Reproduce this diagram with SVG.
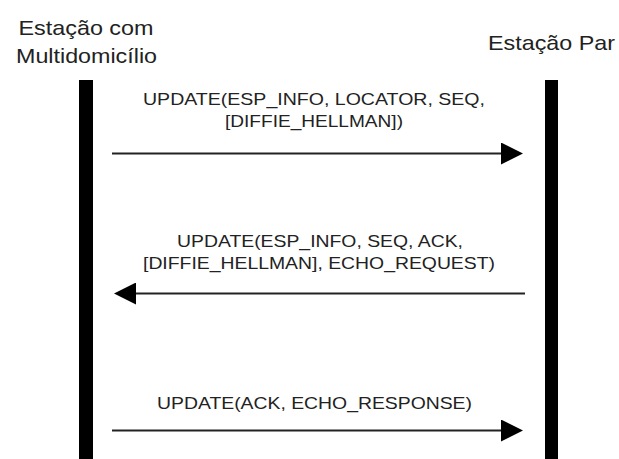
<svg xmlns="http://www.w3.org/2000/svg" width="619" height="459" viewBox="0 0 619 459">
  <defs>
    <style>
      .title { font-family: "Liberation Sans", Arial, sans-serif; font-size: 21px; fill: #222; text-anchor: middle; }
      .msg { font-family: "Liberation Sans", Arial, sans-serif; font-size: 17px; fill: #222; text-anchor: middle; }
      .bar { fill: #000; }
      .arrow { stroke: #222; stroke-width: 2; fill: none; marker-end: url(#head); }
    </style>
    <marker id="head" markerUnits="userSpaceOnUse" markerWidth="22" markerHeight="22" refX="9" refY="11" orient="auto">
      <path d="M0,0 L22,11 L0,22 Z" fill="#000"/>
    </marker>
  </defs>
  <rect width="619" height="459" fill="#fff"/>

  <!-- multihomed station lifeline -->
  <g id="estacao-multidomicilio">
    <text class="title" x="86" y="35" textLength="135" lengthAdjust="spacingAndGlyphs">Estação com</text>
    <text class="title" x="86.5" y="63" textLength="141" lengthAdjust="spacingAndGlyphs">Multidomicílio</text>
    <rect class="bar" x="79" y="80" width="14" height="379"/>
  </g>

  <!-- peer station lifeline -->
  <g id="estacao-par">
    <text class="title" x="551.5" y="50" textLength="127" lengthAdjust="spacingAndGlyphs">Estação Par</text>
    <rect class="bar" x="545" y="80" width="13" height="379"/>
  </g>

  <!-- messages -->
  <g id="connectors">
    <g id="msg1">
      <text class="msg" x="314" y="105" textLength="342" lengthAdjust="spacingAndGlyphs">UPDATE(ESP_INFO, LOCATOR, SEQ,</text>
      <text class="msg" x="314" y="127" textLength="178" lengthAdjust="spacingAndGlyphs">[DIFFIE_HELLMAN])</text>
      <line class="arrow" x1="112" y1="153.5" x2="510" y2="153.5"/>
    </g>
    <g id="msg2">
      <text class="msg" x="320" y="247" textLength="286" lengthAdjust="spacingAndGlyphs">UPDATE(ESP_INFO, SEQ, ACK,</text>
      <text class="msg" x="319" y="269" textLength="352" lengthAdjust="spacingAndGlyphs">[DIFFIE_HELLMAN], ECHO_REQUEST)</text>
      <line class="arrow" x1="525" y1="293.5" x2="127" y2="293.5"/>
    </g>
    <g id="msg3">
      <text class="msg" x="314.5" y="409" textLength="315" lengthAdjust="spacingAndGlyphs">UPDATE(ACK, ECHO_RESPONSE)</text>
      <line class="arrow" x1="112" y1="430.5" x2="510" y2="430.5"/>
    </g>
  </g>
</svg>
